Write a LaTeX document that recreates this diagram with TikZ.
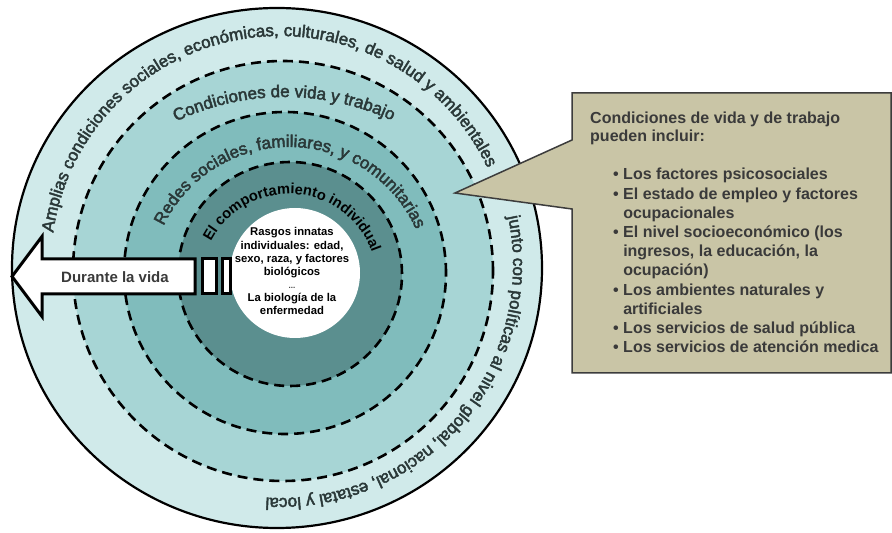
\documentclass[tikz,border=0pt]{standalone}
\usepackage{fontspec}
\setmainfont{Liberation Sans}
\newfontfamily\ringfam[UprightFeatures={FakeBold=2.6}]{Liberation Sans}
\usetikzlibrary{decorations.text}
\definecolor{ringA}{HTML}{D0EAEA}
\definecolor{ringB}{HTML}{A7D5D5}
\definecolor{ringC}{HTML}{80BCBC}
\definecolor{ringD}{HTML}{5B8F8F}
\definecolor{ringtxt}{HTML}{2A3838}
\definecolor{boxfill}{HTML}{C9C5A6}
\definecolor{boxline}{HTML}{3C3C3C}
\definecolor{boxtxt}{HTML}{3A3A3A}
\newcommand\ringfont{\ringfam\fontsize{17}{20}\selectfont\color{ringtxt}}
\newcommand\corefont{\fontsize{14.6}{17}\selectfont\bfseries\color{black}}
\tikzset{
  dashring/.style={draw=black, line width=2.6pt, dash pattern=on 10pt off 6pt},
  outerring/.style={draw=black, line width=2.2pt},
  arrowshape/.style={draw=black, fill=white, line width=3pt, line join=miter},
  calloutshape/.style={draw=boxline, fill=boxfill, line width=1.5pt, line join=miter},
  calltext/.style={text=boxtxt, font=\fontsize{16}{19.2}\selectfont\bfseries, inner sep=0pt},
}
\begin{document}
\begin{tikzpicture}[x=1pt,y=1pt]
\useasboundingbox (0,0) rectangle (892,533);
\fill[white] (0,0) rectangle (892,533);

% rings
\fill[ringA] (277,265) ellipse [x radius=265, y radius=260];
\draw[outerring] (277,265) ellipse [x radius=265, y radius=260];
\fill[ringB] (283,262) circle [radius=210];
\draw[dashring] (283,262) circle [radius=210];
\fill[ringC] (285,260) circle [radius=161];
\draw[dashring] (285,260) circle [radius=161];
\fill[ringD] (290,259) circle [radius=112];
\draw[dashring] (290,259) circle [radius=112];
\fill[white] (295,260) circle [radius=65];

% ring labels
\path[shift={(280,268)}, decorate, decoration={text along path, text align=center,
  text={|\ringfont|Amplias condiciones sociales, económicas, culturales, de salud y ambientales}}]
  (178:229) arc [start angle=178, end angle=19, radius=229];
\path[shift={(280,268)}, decorate, decoration={text along path, text align=center,
  text={|\ringfont|junto con políticas al nivel global, nacional, estatal y local}}]
  (20:233) arc [start angle=20, end angle=-101.5, radius=233];
\path[shift={(285,182)}, decorate, decoration={text along path, text align=center,
  text={|\ringfont|Condiciones de vida y trabajo}}]
  (125:254) arc [start angle=125, end angle=55.5, radius=254];
\path[shift={(289,247)}, decorate, decoration={text along path, text align=center,
  text={|\ringfont|Redes sociales, familiares, y comunitarias}}]
  (165:139) arc [start angle=165, end angle=13.4, radius=139];
\path[shift={(289,251)}, decorate, decoration={text along path, text align=center,
  text={|\corefont|El comportamiento individual}}]
  (170:88) arc [start angle=170, end angle=2, radius=88];

% inner text
\node (rasgos) [anchor=base, inner sep=0pt, font=\fontsize{11.3}{13.1}\selectfont\bfseries] at (292,297)
  {\begin{tabular}[t]{@{}c@{}}Rasgos innatas\\individuales: edad,\\sexo, raza, y factores\\biológicos\\{\color{darkgray}\fontsize{8}{9}\selectfont ...}\\La biología de la\\enfermedad\end{tabular}};

% arrow
\draw[arrowshape] (12,256.5) -- (42,296.5) -- (42,274) -- (195,274) -- (195,239) -- (42,239) -- (42,216.5) -- cycle;
\draw[arrowshape] (202,239) rectangle (216,274);
\draw[arrowshape] (222,239) rectangle (230,274);
\node (durante) [anchor=base, inner sep=0pt, font=\fontsize{15}{18}\selectfont\bfseries, text=boxtxt] at (115,250.5) {Durante la vida};

% callout
\draw[calloutshape] (572,440) -- (891,440) -- (891,160) -- (572,160) -- (572,324) -- (455,340) -- (572,393) -- cycle;
\node (calltitle) [calltext, anchor=base west, font=\fontsize{16}{17.7}\selectfont\bfseries] at (590,409)
  {\begin{tabular}[t]{@{}l@{}}Condiciones de vida y de trabajo\\pueden incluir:\end{tabular}};
\node (calllist) [calltext, anchor=base west] at (613,353)
  {\begin{tabular}[t]{@{}l@{}}• Los factores psicosociales\\
  • El estado de empleo y factores\\
  \phantom{• }ocupacionales\\
  • El nivel socioeconómico (los\\
  \phantom{• }ingresos, la educación, la\\
  \phantom{• }ocupación)\\
  • Los ambientes naturales y\\
  \phantom{• }artificiales\\
  • Los servicios de salud pública\\
  • Los servicios de atención medica\end{tabular}};
\end{tikzpicture}
\end{document}
